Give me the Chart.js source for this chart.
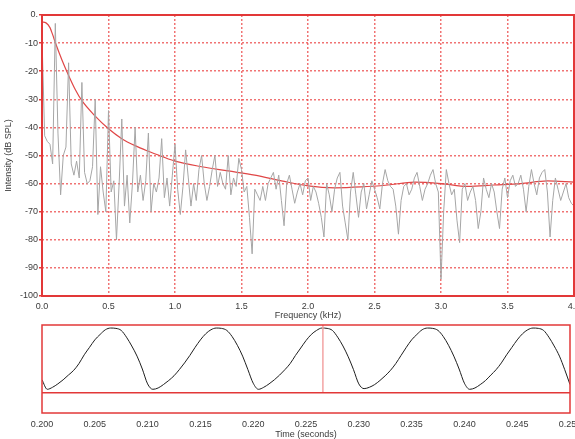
<!DOCTYPE html>
<html>
<head>
<meta charset="utf-8">
<script src="https://cdn.jsdelivr.net/npm/chart.js@4.4.1/dist/chart.umd.min.js"></script>
<style>
  html, body { margin: 0; padding: 0; background: #fff; width: 575px; height: 439px; overflow: hidden; }
  #spec { position: absolute; left: 0; top: 0; }
  #wave { position: absolute; left: 0; top: 322px; }
</style>
</head>
<body>
<canvas id="spec" width="575" height="322"></canvas>
<canvas id="wave" width="575" height="117"></canvas>
<script>
// ── DATA ─────────────────────────────────────────────────────────────────────

// spectrum, one value every 0.02 kHz from 0.0 to 4.0 kHz
const specStep = 0.02;
const specDb = [
  -8, -43, -45, -46, -53, -3, -42, -64, -50, -47,
  -17, -53, -57, -52, -58, -24, -56, -60, -59, -54,
  -30, -71, -54, -63, -70, -34, -63, -59, -80, -60,
  -37, -68, -57, -74, -60, -40, -63, -57, -66, -59,
  -42, -70, -60, -63, -58, -44, -65, -58, -68, -57,
  -46, -62, -71, -61, -48, -58, -68, -60, -66, -55,
  -50, -60, -66, -61, -55, -50, -61, -56, -60, -62,
  -50, -64, -58, -61, -51, -55, -63, -61, -72, -85,
  -62, -64, -66, -61, -66, -60, -58, -56, -62, -57,
  -66, -75, -60, -57, -62, -67, -63, -60, -64, -59,
  -58, -66, -61, -63, -67, -72, -79, -60, -64, -70,
  -62, -58, -56, -68, -74, -80, -63, -56, -64, -72,
  -63, -60, -69, -64, -59, -62, -65, -69, -60, -55,
  -59, -61, -62, -68, -78, -66, -61, -60, -64, -62,
  -58, -56, -61, -66, -62, -60, -57, -55, -60, -63,
  -94, -70, -55, -60, -64, -62, -73, -81, -62, -60,
  -66, -63, -61, -66, -76, -70, -58, -62, -65, -60,
  -63, -70, -76, -62, -58, -65, -59, -57, -61, -60,
  -57, -62, -70, -61, -55, -60, -64, -58, -56, -55,
  -63, -79, -66, -58, -62, -66, -63, -60, -65, -67,
  -68
];

// smooth envelope (red)
const envFreq = [0, 0.03, 0.06, 0.08, 0.1, 0.15, 0.2, 0.25, 0.3, 0.4, 0.5, 0.6, 0.7, 0.8, 0.9,
                 1.0, 1.2, 1.4, 1.6, 1.8, 2.0, 2.2, 2.4, 2.6, 2.8, 3.0, 3.2, 3.4, 3.6, 3.8, 4.0];
const envDb   = [-2.5, -2.8, -4.5, -7, -9.8, -16, -21.5, -26.5, -30.5, -36, -40.5, -44, -46.5, -48.5, -50.3,
                 -52, -54, -55.5, -57, -59, -60.8, -61.5, -61.2, -60.5, -59.5, -60, -61, -60.5, -60, -59, -59.5];

const freqTicks = [0, 0.5, 1.0, 1.5, 2.0, 2.5, 3.0, 3.5, 4.0];
const dbTicks   = [0, -10, -20, -30, -40, -50, -60, -70, -80, -90, -100];

// waveform, one value every 0.5 ms from 0.200 s to 0.250 s
const waveStart = 0.200;
const waveStep  = 0.0005;
const waveAmp = [
  0.19, 0.05, 0.08, 0.13, 0.19, 0.26, 0.33, 0.43, 0.56, 0.67, 0.78, 0.86, 0.93, 0.955, 0.95, 0.92, 0.82, 0.69, 0.54, 0.35,
  0.13, 0.05, 0.07, 0.12, 0.18, 0.25, 0.34, 0.44, 0.55, 0.67, 0.78, 0.87, 0.93, 0.955, 0.95, 0.92, 0.83, 0.70, 0.54, 0.34,
  0.14, 0.05, 0.08, 0.13, 0.19, 0.26, 0.34, 0.43, 0.55, 0.66, 0.77, 0.86, 0.92, 0.955, 0.95, 0.92, 0.82, 0.69, 0.53, 0.34,
  0.13, 0.06, 0.08, 0.12, 0.18, 0.25, 0.33, 0.43, 0.55, 0.67, 0.78, 0.86, 0.93, 0.955, 0.95, 0.92, 0.83, 0.70, 0.54, 0.35,
  0.14, 0.05, 0.07, 0.12, 0.18, 0.26, 0.34, 0.44, 0.56, 0.67, 0.78, 0.87, 0.93, 0.955, 0.95, 0.92, 0.82, 0.69, 0.54, 0.34,
  0.12
];
const cursorTime = 0.2266;
const timeTicks = [0.200, 0.205, 0.210, 0.215, 0.220, 0.225, 0.230, 0.235, 0.240, 0.245, 0.250];

// ── STYLE ────────────────────────────────────────────────────────────────────

const FONT = { family: "'Liberation Sans', Arial, sans-serif", size: 9 };
const TEXT = '#3a3a3a';
const RED  = '#e23838';
const GRID = 'rgba(236,80,80,0.8)';

Chart.defaults.font.family = FONT.family;
Chart.defaults.font.size = FONT.size;
Chart.defaults.color = TEXT;

// red box around the plot area
const frame = {
  id: 'frame',
  afterDatasetsDraw(chart, args, opts) {
    const { ctx, chartArea: a } = chart;
    ctx.save();
    ctx.strokeStyle = opts.color;
    ctx.lineWidth = opts.width;
    ctx.strokeRect(a.left, a.top, a.right - a.left, a.bottom - a.top);
    ctx.restore();
  }
};

// fixed axis size, and no extra room for the end labels
const fixAxis = size => scale => {
  if (scale.isHorizontal()) scale.height = size; else scale.width = size;
  scale.paddingLeft = scale.paddingRight = scale.paddingTop = scale.paddingBottom = 0;
};
const useTicks = list => scale => { scale.ticks = list.map(v => ({ value: v })); };

// ── SPECTRUM ─────────────────────────────────────────────────────────────────

new Chart(document.getElementById('spec'), {
  type: 'line',
  data: {
    datasets: [
      {
        data: specDb.map((v, i) => ({ x: i * specStep, y: v })),
        borderColor: '#a6a6a6',
        borderWidth: 1,
        pointRadius: 0,
        tension: 0,
      },
      {
        data: envDb.map((v, i) => ({ x: envFreq[i], y: v })),
        borderColor: '#e04646',
        borderWidth: 1.2,
        pointRadius: 0,
        cubicInterpolationMode: 'monotone',
      },
    ],
  },
  options: {
    responsive: false,
    animation: false,
    layout: { padding: { left: 0, top: 15, right: 1, bottom: 0 } },
    plugins: {
      legend: { display: false },
      tooltip: { enabled: false },
      frame: { color: RED, width: 2 },
    },
    scales: {
      x: {
        type: 'linear',
        min: 0, max: 4,
        afterBuildTicks: useTicks(freqTicks),
        afterFit: fixAxis(26),
        grid: { color: GRID, lineWidth: 1.5, drawTicks: false },
        border: { display: false, dash: [2, 2] },
        ticks: { padding: 5, maxRotation: 0, color: TEXT, callback: v => v.toFixed(1) },
        title: { display: true, text: 'Frequency (kHz)', color: TEXT, padding: { top: 0, bottom: 1 } },
      },
      y: {
        min: -100, max: 0,
        afterBuildTicks: useTicks(dbTicks),
        afterFit: fixAxis(42),
        grid: { color: GRID, lineWidth: 1.5, drawTicks: true, tickLength: 3, tickColor: RED, tickBorderDash: [] },
        border: { display: false, dash: [2, 2] },
        ticks: { padding: 1, color: TEXT, callback: v => (v === 0 ? '0.' : String(v)) },
        title: { display: true, text: 'Intensity (dB SPL)', color: TEXT, padding: { top: 3, bottom: 0 } },
      },
    },
  },
  plugins: [frame],
});

// ── WAVEFORM ─────────────────────────────────────────────────────────────────

new Chart(document.getElementById('wave'), {
  type: 'line',
  data: {
    datasets: [
      {
        data: [{ x: timeTicks[0], y: 0 }, { x: timeTicks[timeTicks.length - 1], y: 0 }],
        borderColor: RED,
        borderWidth: 1.5,
        pointRadius: 0,
      },
      {
        data: [{ x: cursorTime, y: 0 }, { x: cursorTime, y: 1 }],
        borderColor: '#f3a3a3',
        borderWidth: 1.5,
        pointRadius: 0,
      },
      {
        data: waveAmp.map((v, i) => ({ x: waveStart + i * waveStep, y: v })),
        borderColor: '#1e1e1e',
        borderWidth: 1,
        pointRadius: 0,
        cubicInterpolationMode: 'monotone',
      },
    ],
  },
  options: {
    responsive: false,
    animation: false,
    layout: { padding: { left: 42, top: 3, right: 5, bottom: 0 } },
    plugins: {
      legend: { display: false },
      tooltip: { enabled: false },
      frame: { color: RED, width: 1.5 },
    },
    scales: {
      x: {
        type: 'linear',
        min: 0.2, max: 0.25,
        afterBuildTicks: useTicks(timeTicks),
        afterFit: fixAxis(26),
        grid: { display: false, drawTicks: false },
        border: { display: false },
        ticks: { padding: 6, maxRotation: 0, autoSkip: false, color: TEXT, callback: v => v.toFixed(3) },
        title: { display: true, text: 'Time (seconds)', color: TEXT, font: { lineHeight: 1 }, padding: { top: 0, bottom: 0 } },
      },
      y: {
        display: false,
        min: -0.3, max: 1.0,
      },
    },
  },
  plugins: [frame],
});
</script>
</body>
</html>
